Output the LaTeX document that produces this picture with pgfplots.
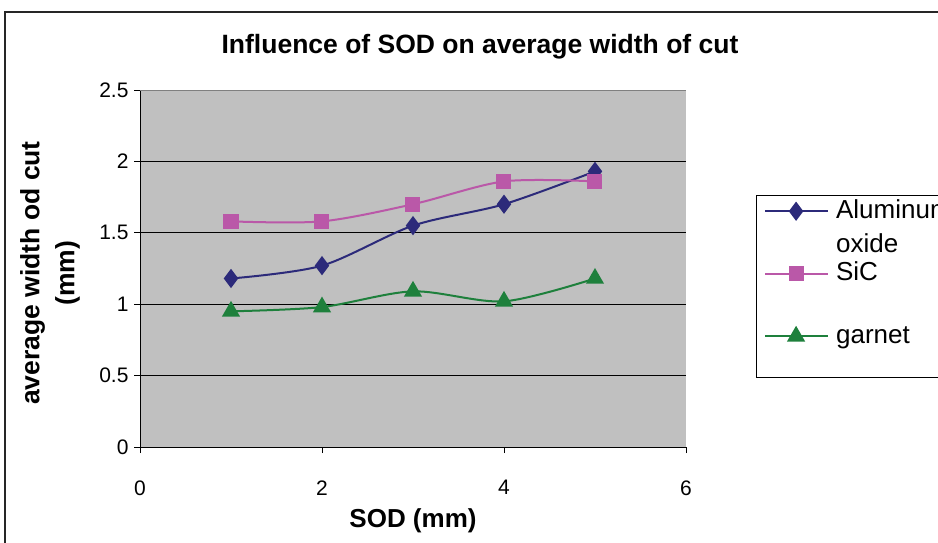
\documentclass[border=0pt]{standalone}
\usepackage{fontspec}
\setmainfont{Liberation Sans}
\usepackage{pgfplots}
\pgfplotsset{compat=1.18}
\definecolor{alox}{RGB}{44,42,122}
\definecolor{sic}{RGB}{186,88,168}
\definecolor{garnet}{RGB}{30,128,60}
\definecolor{plotbg}{RGB}{192,192,192}
\begin{document}
\begin{tikzpicture}[x=1pt,y=1pt]
\clip (0,0) rectangle (938,-543);
\fill[white] (0,0) rectangle (938,-543);
\draw[line width=1.5pt, black!85] (5,-560) -- (5,-12) -- (960,-12);
\draw[line width=0.8pt, black, fill=white] (756,-195) rectangle (960,-377);
\node[font=\bfseries\fontsize{26.5}{30}\selectfont] at (480,-47) {Influence of SOD on average width of cut};
\node[font=\bfseries\fontsize{26.5}{35}\selectfont, rotate=90, align=center] at (50,-273) {average width od cut\\(mm)};
\node[font=\bfseries\fontsize{26}{30}\selectfont] at (413,-521) {SOD (mm)};
\begin{axis}[
  at={(140pt,-447pt)}, anchor=south west,
  scale only axis, width=546pt, height=357pt,
  xmin=0, xmax=6, ymin=0, ymax=2.5,
  xtick={0,2,4,6}, ytick={0,0.5,1,1.5,2,2.5},
  axis background/.style={fill=plotbg},
  ymajorgrids, grid style={black, line width=0.8pt},
  axis x line*=bottom, axis y line*=left,
  axis line style={black, line width=0.8pt},
  tick style={black, line width=0.8pt},
  tick align=outside, major tick length=6pt,
  /pgf/number format/assume math mode=true,
  ticklabel style={font=\fontsize{21}{24}\selectfont},
  xticklabel style={yshift=-24pt},
  yticklabel style={xshift=-2pt},
  legend style={at={(axis description cs:1.128,0.712)}, anchor=north west,
    draw=none, fill=none,
    font=\fontsize{26}{30}\selectfont,
    row sep=42pt, column sep=5pt, inner xsep=8pt, inner ysep=8pt,
    nodes={text width=130pt, align=left, inner sep=2pt}},
  legend cell align=left,
  legend image code/.code={\draw[mark repeat=2, mark phase=2] plot coordinates {(0pt,0pt)(31pt,0pt)(63pt,0pt)};},
]
\draw[gray, line width=0.8pt] (axis cs:0,2.5) -- (axis cs:6,2.5) -- (axis cs:6,0);
\addplot[alox, line width=2pt, smooth, mark=diamond*, mark size=8pt, mark options={solid, fill=alox}]
  coordinates {(1,1.18) (2,1.27) (3,1.55) (4,1.70) (5,1.93)};
\addlegendentry{\raisebox{0pt}[15pt][6pt]{\begin{tabular}[t]{@{}l@{}}Aluminum\\[4pt]oxide\end{tabular}}}
\addplot[sic, line width=2pt, smooth, mark=square*, mark size=6.5pt, mark options={solid, fill=sic}]
  coordinates {(1,1.58) (2,1.58) (3,1.70) (4,1.86) (5,1.86)};
\addlegendentry{\raisebox{0pt}[15pt][6pt]{SiC}}
\addplot[garnet, line width=2pt, smooth, mark=triangle*, mark size=8.5pt, mark options={solid, fill=garnet}]
  coordinates {(1,0.95) (2,0.98) (3,1.09) (4,1.02) (5,1.18)};
\addlegendentry{\raisebox{0pt}[15pt][6pt]{garnet}}
\end{axis}
\end{tikzpicture}
\end{document}
